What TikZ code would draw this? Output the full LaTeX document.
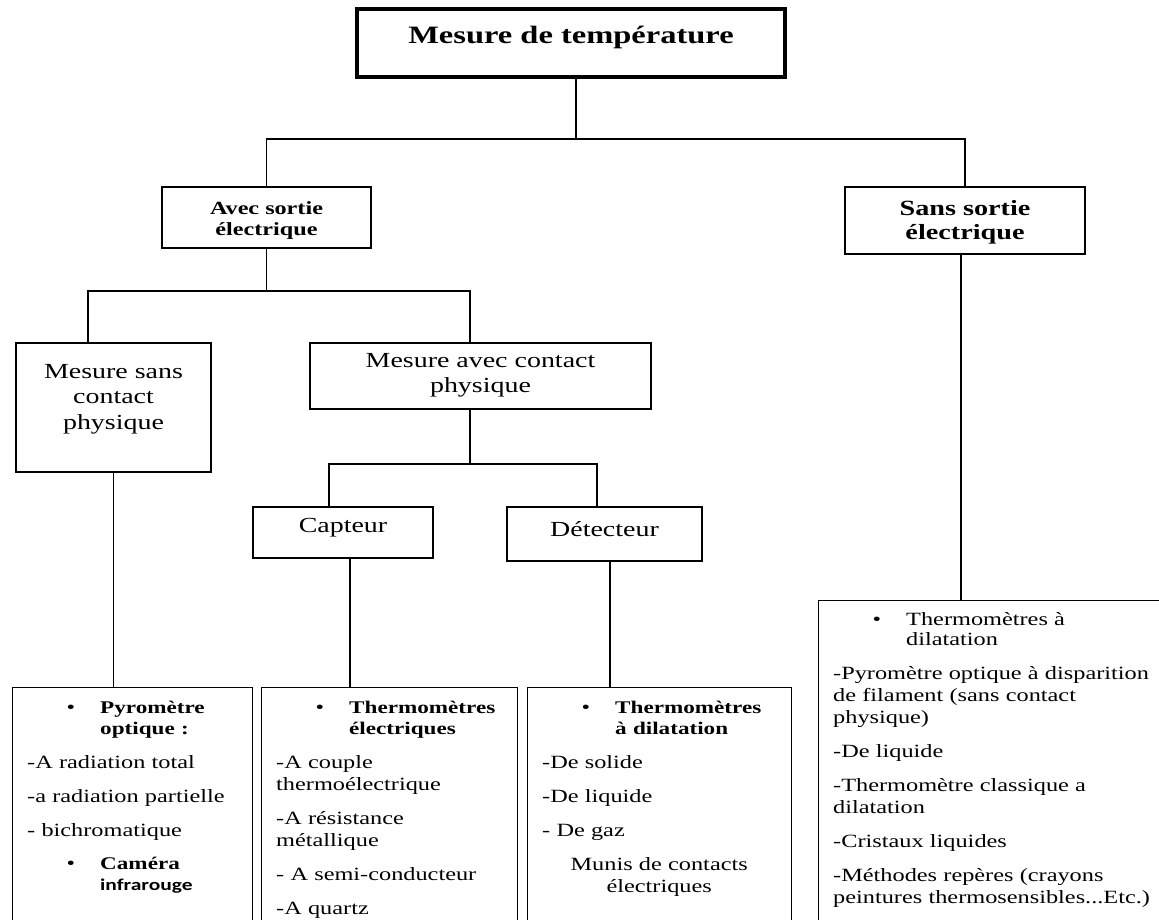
\documentclass[tikz,border=0pt]{standalone}
\usepackage{fontspec}
\setmainfont{Liberation Serif}[FakeStretch=1.3]
\newfontfamily\irfont{Carlito}[FakeStretch=1.3]
\usetikzlibrary{positioning}
\tikzset{
  plainbox/.style={rectangle,draw=black,line width=1.3pt,inner sep=0pt},
  rootbox/.style={plainbox,line width=3.5pt,font=\fontsize{25}{29}\selectfont\bfseries},
  kindbox/.style={plainbox,line width=2.8pt},
  levelbox/.style={plainbox,font=\fontsize{21.5}{25.5}\selectfont},
  leafbox/.style={plainbox,anchor=north west,minimum height=260pt},
  leaftext/.style={anchor=base west,inner sep=0pt,text width=#1,align=left,
    font=\fontsize{18.7}{22}\selectfont,
    execute at begin node={\setlength{\parskip}{12pt}\hyphenpenalty=10000\exhyphenpenalty=10000}},
  wire/.style={draw=black,line width=1.2pt}
}
\newcommand{\atbase}[2]{\raisebox{#1}[0pt][0pt]{#2}}
\newcommand{\headitem}[2][\fontsize{17.8}{21}\selectfont\bfseries]{%
  {\hangindent=73pt\hangafter=0\noindent\llap{\textbullet\hspace{25pt}}#1#2\par}}

\begin{document}
\begin{tikzpicture}[x=1pt,y=-1pt]
\useasboundingbox (0,0) rectangle (1159,920);
\clip (0,0) rectangle (1159,920);

\node[rootbox,minimum width=428pt,minimum height=68pt] (root) at (571,43)
  {\atbase{-1pt}{Mesure de température}};
\node[kindbox,minimum width=209pt,minimum height=61pt,font=\fontsize{18.6}{21}\selectfont\bfseries] (avec) at (266.5,217.5)
  {\atbase{2.5pt}{\parbox[t]{200pt}{\centering Avec sortie\\électrique}}};
\node[kindbox,minimum width=240pt,minimum height=67pt,font=\fontsize{21.7}{24}\selectfont\bfseries] (sans) at (965,220.5)
  {\atbase{4.5pt}{\parbox[t]{230pt}{\centering Sans sortie\\électrique}}};
\node[levelbox,minimum width=195pt,minimum height=129pt] (msans) at (113.5,407.5)
  {\atbase{29.5pt}{\parbox[t]{190pt}{\centering Mesure sans\\contact\\physique}}};
\node[levelbox,minimum width=341pt,minimum height=66pt] (mavec) at (480.5,376)
  {\atbase{9pt}{\parbox[t]{330pt}{\centering Mesure avec contact\\physique}}};
\node[levelbox,minimum width=180pt,minimum height=51pt] (capteur) at (343,532.5)
  {\atbase{0.5pt}{Capteur}};
\node[levelbox,minimum width=195pt,minimum height=54pt] (detect) at (604.5,534)
  {\atbase{-2pt}{Détecteur}};

\node[leafbox,minimum width=240pt] (pyro) at (12,687) {};
\node[leafbox,minimum width=256pt] (telec) at (261,687) {};
\node[leafbox,minimum width=264pt] (dilat) at (527,687) {};
\node[leafbox,minimum width=352pt,minimum height=340pt] (sdilat) at (818,600) {};

\node[leaftext=215pt] (pyrotxt) at ([shift={(15,26)}]pyro.north west) {\headitem{Pyromètre\newline optique :}
  -A radiation total\par
  -a radiation partielle\par
  - bichromatique\par
  \headitem{Caméra\newline{\irfont\fontsize{16.5}{21}\selectfont infrarouge}}};
\node[leaftext=240pt] (telectxt) at ([shift={(15,26)}]telec.north west) {\headitem{Thermomètres\newline électriques}
  -A couple\\thermoélectrique\par
  -A résistance\\métallique\par
  - A semi-conducteur\par
  -A quartz};
\node[leaftext=234pt] (dilattxt) at ([shift={(15,26)}]dilat.north west) {\headitem{Thermomètres\newline à dilatation}
  -De solide\par
  -De liquide\par
  - De gaz\par
  {\centering Munis de contacts\\électriques\par}};
\node[leaftext=325pt] (sdilattxt) at ([shift={(15,25)}]sdilat.north west) {\headitem[\fontsize{18.7}{20.5}\selectfont]{Thermomètres à\newline dilatation}
  -Pyromètre optique à disparition\\de filament (sans contact\\physique)\par
  -De liquide\par
  -Thermomètre classique a\\dilatation\par
  -Cristaux liquides\par
  -Méthodes repères (crayons\\peintures thermosensibles...Etc.)};

\coordinate (j1) at (576,139);
\coordinate (j2) at (266.5,291);
\coordinate (j3) at (470,464);
\draw[wire] ([xshift=5pt]root.south) -- ([xshift=5pt]root.south |- j1);
\draw[wire] (avec.north) |- (j1) -| (sans.north);
\draw[wire] (avec.south) -- (avec.south |- j2);
\draw[wire] ([xshift=-25.5pt]msans.north) |- (j2) -| ([xshift=-10.5pt]mavec.north);
\draw[wire] ([xshift=-10.5pt]mavec.south) -- ([xshift=-10.5pt]mavec.south |- j3);
\draw[wire] ([xshift=-14pt]capteur.north) |- (j3) -| ([xshift=-7.5pt]detect.north);
\draw[wire] (msans.south) -- (msans.south |- pyro.north);
\draw[wire] ([xshift=7pt]capteur.south) -- ([xshift=7pt]capteur.south |- telec.north);
\draw[wire] ([xshift=5.5pt]detect.south) -- ([xshift=5.5pt]detect.south |- dilat.north);
\draw[wire] ([xshift=-4pt]sans.south) -- ([xshift=-4pt]sans.south |- sdilat.north);
\end{tikzpicture}
\end{document}
